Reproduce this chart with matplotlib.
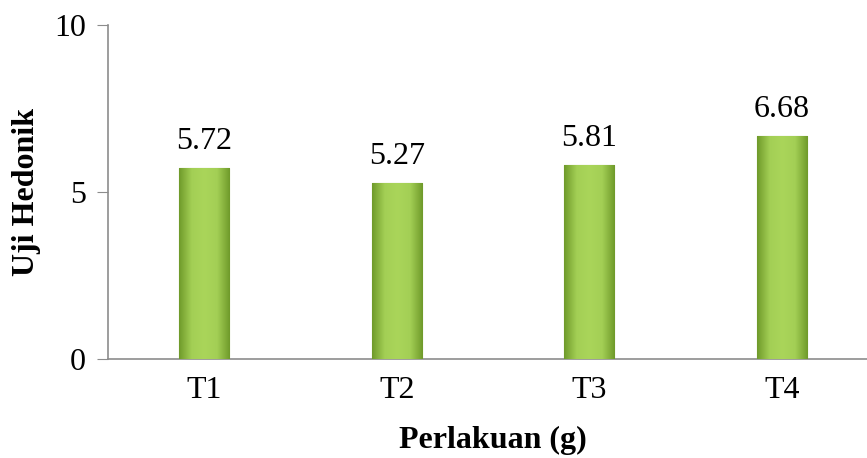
import matplotlib.pyplot as plt
import numpy as np
from matplotlib.colors import LinearSegmentedColormap

plt.rcParams['font.family'] = ['Liberation Serif', 'DejaVu Serif']

perlakuan = ['T1', 'T2', 'T3', 'T4']
nilai = [5.72, 5.27, 5.81, 6.68]

fig = plt.figure(figsize=(8.67, 4.58), dpi=100)
ax = fig.add_axes([108 / 867, 1 - 359 / 458, (878 - 108) / 867, (359 - 25) / 458])

x = np.arange(len(perlakuan))
width = 0.26
bars = ax.bar(x, nilai, width=width, color='#9cc74a', edgecolor='#7a9e35', linewidth=0.8, zorder=2)

# horizontal shading for a rounded look
shade = LinearSegmentedColormap.from_list('hijau', ['#6f9a2a', '#a3cf55', '#aad55a', '#a3cf55', '#6f9a2a'])
grad = np.linspace(0, 1, 256).reshape(1, -1)
for b in bars:
    x0, w, h = b.get_x(), b.get_width(), b.get_height()
    im = ax.imshow(grad, cmap=shade, aspect='auto', extent=(x0, x0 + w, 0, h), zorder=3)
    im.set_clip_path(b)
    ax.text(b.get_x() + w / 2, h + 0.35, f'{h:.2f}', ha='center', va='bottom', fontsize=23)

ax.set_xlim(-0.5, 3.5)
ax.set_ylim(0, 10)
ax.set_yticks([0, 5, 10])
ax.set_xticks(x)
ax.set_xticklabels(perlakuan)
ax.tick_params(axis='y', labelsize=23, length=8, color='#8c8c8c', pad=8)
ax.tick_params(axis='x', labelsize=23, length=0, pad=12)
for s in ['top', 'right']:
    ax.spines[s].set_visible(False)
for s in ['left', 'bottom']:
    ax.spines[s].set_color('#8c8c8c')
    ax.spines[s].set_linewidth(1.2)

ax.set_ylabel('Uji Hedonik', fontsize=23, fontweight='bold', labelpad=9)
ax.set_xlabel('Perlakuan (g)', fontsize=23, fontweight='bold', labelpad=15)

fig.savefig('out.png', dpi=100)
